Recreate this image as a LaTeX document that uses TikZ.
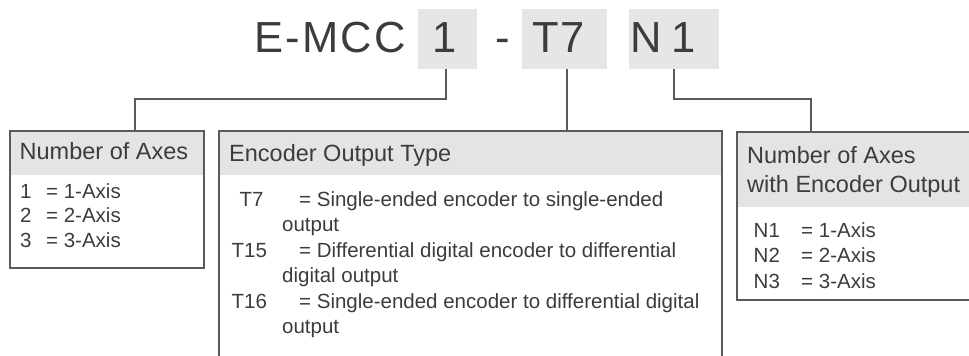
\documentclass[tikz,border=0pt]{standalone}
\usepackage{fontspec}
\setmainfont{Liberation Sans}
\newfontfamily\titlefont[LetterSpace=5]{Liberation Sans}
\definecolor{txt}{HTML}{3C3C3C}
\definecolor{hdr}{HTML}{E4E4E4}
\definecolor{frame}{HTML}{5A5A5A}
\definecolor{tbox}{HTML}{E6E6E6}
\begin{document}
\begin{tikzpicture}[x=1pt,y=-1pt,
  conn/.style={draw=frame,line width=1.5pt},
  codebox/.style={fill=tbox,draw=none,minimum height=60pt,inner sep=0pt},
  panel/.style={draw=frame,line width=1.6pt,inner sep=0pt},
  head/.style={fill=hdr,draw=none,inner sep=0pt},
  big/.style={anchor=base west,inner sep=0pt,text=txt,font=\titlefont\fontsize{43.5}{50}\selectfont},
  htext/.style={anchor=base west,inner sep=0pt,text=txt,font=\fontsize{23.5}{29}\selectfont},
  btext/.style={anchor=base west,inner sep=0pt,text=txt,font=\fontsize{20.5}{25}\selectfont}]
\clip (0,0) rectangle (969,356);
\fill[white] (0,0) rectangle (969,356);
% title code boxes
\node[codebox,minimum width=59pt] (b1) at (447.5,39) {};
\node[codebox,minimum width=85pt] (b2) at (564.5,39) {};
\node[codebox,minimum width=90pt] (b3) at (674,39) {};
% title text
\node[big] (tE) at (254,52) {E-MCC};
\node[big] (t1) at (432,52) {1};
\node[big] (tdash) at (495,52) {-};
\node[big] (tT) at (532,52) {T7};
\node[big] (tN) at (630,52) {N\kern10pt1};
% panel headers
\node[head,minimum width=194pt,minimum height=44pt] (lh) at (107,153) {};
\node[head,minimum width=503pt,minimum height=44pt] (mh) at (470.5,153) {};
\node[head,minimum width=248pt,minimum height=75pt] (rh) at (861,169.5) {};
% panels
\node[panel,minimum width=194pt,minimum height=137pt] (lb) at (107,199.5) {};
\node[panel,minimum width=503pt,minimum height=245pt] (mb) at (470.5,253.5) {};
\node[panel,minimum width=248pt,minimum height=168pt] (rb) at (861,216) {};
% connectors
\draw[conn] ([xshift=-1.5pt]b1.south) -- ++(0,30) -| ([xshift=28pt]lb.north);
\draw[conn] ([xshift=2.5pt]b2.south) -- ([xshift=2.5pt]b2.south |- mb.north);
\draw[conn] (b3.south) -- ++(0,30) -| ([xshift=-50pt]rb.north);
% left panel text
\node[htext] (lht) at (19.5,159) {Number of Axes};
\node[btext] (l1) at (20,198) {1};
\node[btext] (l1e) at (46,198) {= 1-Axis};
\node[btext] (l2) at (20,222.5) {2};
\node[btext] (l2e) at (46,222.5) {= 2-Axis};
\node[btext] (l3) at (20,247) {3};
\node[btext] (l3e) at (46,247) {= 3-Axis};
% middle panel text
\node[htext] (mht) at (229,161) {Encoder Output Type};
\node[btext] (m1) at (239.5,206) {T7};
\node[btext] (m1e) at (299,206) {= Single-ended encoder to single-ended};
\node[btext] (m1c) at (282,231.5) {output};
\node[btext] (m2) at (231.5,257) {T15};
\node[btext] (m2e) at (299,257) {= Differential digital encoder to differential};
\node[btext] (m2c) at (282,282.5) {digital output};
\node[btext] (m3) at (231.5,308) {T16};
\node[btext] (m3e) at (299,308) {= Single-ended encoder to differential digital};
\node[btext] (m3c) at (282,333.5) {output};
% right panel text
\node[htext] (rht1) at (747,163) {Number of Axes};
\node[htext] (rht2) at (747,192) {with Encoder Output};
\node[btext] (r1) at (753.5,237) {N1};
\node[btext] (r1e) at (801,237) {= 1-Axis};
\node[btext] (r2) at (753.5,262.5) {N2};
\node[btext] (r2e) at (801,262.5) {= 2-Axis};
\node[btext] (r3) at (753.5,288) {N3};
\node[btext] (r3e) at (801,288) {= 3-Axis};
\end{tikzpicture}
\end{document}
